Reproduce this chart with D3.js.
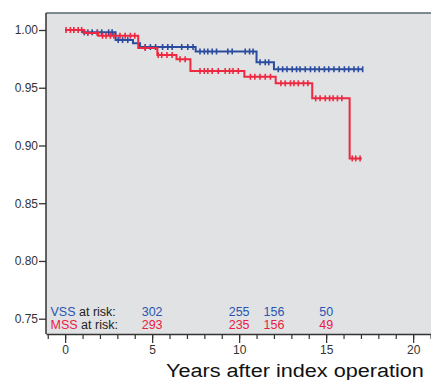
<!DOCTYPE html>
<html>
<head>
<meta charset="utf-8">
<script src="https://cdn.jsdelivr.net/npm/d3@7"></script>
<style>
  body { margin: 0; background: #fff; }
  text { font-family: "Liberation Sans", Arial, sans-serif; }
</style>
</head>
<body>
<script>
// data
var vssTimes = [0, 1.0, 2.9, 3.9, 4.3, 7.5, 11.0, 12.0];
var vssSurv = [1.0, 0.998, 0.9913, 0.9885, 0.9853, 0.9814, 0.972, 0.966];
var vssEnd = 17.1;
var vssCensor = [1.1, 1.3, 1.55, 1.85, 2.1, 2.5, 2.7, 3.05, 3.3, 3.6, 4.6, 4.9, 5.2, 5.6, 5.9,
  6.15, 6.7, 7.05, 7.35, 7.75, 8.0, 8.2, 8.45, 8.7, 9.35, 9.6, 10.35, 10.6, 10.8, 11.2, 11.5,
  11.7, 12.25, 12.5, 12.75, 13.05, 13.3, 13.5, 13.8, 14.1, 14.35, 14.6, 14.9, 15.15, 15.45,
  15.75, 16.05, 16.3, 16.6, 16.85, 17.1];

var mssTimes = [0, 1.1, 1.9, 4.2, 5.3, 6.4, 7.2, 10.3, 12.1, 14.2, 16.35];
var mssSurv = [1.0, 0.9975, 0.995, 0.9844, 0.9783, 0.9746, 0.9645, 0.9595, 0.9538, 0.9408, 0.8888];
var mssEnd = 17.05;
var mssCensor = [0.05, 0.3, 0.5, 0.75, 0.95, 1.3, 1.85, 2.15, 2.35, 2.6, 2.8, 3.15, 3.45, 3.75,
  4.0, 4.6, 5.35, 5.55, 5.85, 6.15, 6.6, 6.9, 7.75, 8.0, 8.2, 8.45, 8.8, 9.2, 9.45, 9.65, 9.95,
  10.65, 10.9, 11.2, 11.5, 11.8, 12.4, 12.65, 12.95, 13.15, 13.4, 13.7, 13.95, 14.4, 14.65,
  14.95, 15.2, 15.4, 15.65, 15.9, 16.5, 16.7, 16.95];

var riskTimes = [5, 10, 12, 15];
var vssRisk = [302, 255, 156, 50];
var mssRisk = [293, 235, 156, 49];

var yTicks = [0.75, 0.80, 0.85, 0.90, 0.95, 1.00];
var xMajor = [0, 5, 10, 15, 20];
var xMinor = d3.range(-1, 22);

// chart setup
var svgWidth = 431;
var svgHeight = 380;
var margin = { top: 13, left: 46 };
var width = 393;
var height = 321;

var blue = "#2b4c9f";
var red = "#ee2840";

var svg = d3.select("body")
  .append("svg")
  .attr("width", svgWidth)
  .attr("height", svgHeight);

var chartGroup = svg.append("g")
  .attr("transform", `translate(${margin.left}, ${margin.top})`);

var xScale = d3.scaleLinear().domain([-1.1, 21.486]).range([0, width]);
var yScale = d3.scaleLinear().domain([0.75, 1.0]).range([305.7, 17]);

// plot background
chartGroup.append("rect")
  .attr("width", width)
  .attr("height", height)
  .attr("fill", "#e1e2e4");

// frame lines
chartGroup.append("line")
  .attr("x1", 0).attr("x2", width).attr("y1", 0).attr("y2", 0)
  .attr("stroke", "#56666c").attr("stroke-width", 1.5);

// y axis
var leftAxis = d3.axisLeft(yScale)
  .tickValues(yTicks)
  .tickFormat(d3.format(".2f"))
  .tickSize(7)
  .tickSizeOuter(0);

var yAxisG = chartGroup.append("g").call(leftAxis);
yAxisG.select(".domain").remove();
yAxisG.selectAll(".tick line").attr("stroke", "#333").attr("stroke-width", 1.3);
yAxisG.selectAll(".tick text")
  .attr("font-size", 12)
  .attr("fill", "#333")
  .attr("x", -8);

chartGroup.append("line")
  .attr("x1", 0).attr("x2", 0).attr("y1", 0).attr("y2", height)
  .attr("stroke", "#333").attr("stroke-width", 1.5);

// x axis
var minorAxis = d3.axisBottom(xScale)
  .tickValues(xMinor)
  .tickFormat("")
  .tickSize(5)
  .tickSizeOuter(0);

var bottomAxis = d3.axisBottom(xScale)
  .tickValues(xMajor)
  .tickFormat(d3.format("d"))
  .tickSize(9)
  .tickSizeOuter(0);

var xMinorG = chartGroup.append("g")
  .attr("transform", `translate(0, ${height})`)
  .call(minorAxis);
xMinorG.select(".domain").remove();
xMinorG.selectAll(".tick line").attr("stroke", "#333").attr("stroke-width", 1.2);

var xAxisG = chartGroup.append("g")
  .attr("transform", `translate(0, ${height})`)
  .call(bottomAxis);
xAxisG.select(".domain").attr("stroke", "#333").attr("stroke-width", 1.5);
xAxisG.selectAll(".tick line").attr("stroke", "#333").attr("stroke-width", 1.2);
xAxisG.selectAll(".tick text")
  .attr("font-size", 12)
  .attr("fill", "#333")
  .attr("y", 11);

// axis title (wide text, kept just inside the right edge)
svg.append("text")
  .attr("transform", "translate(166, 377) scale(1.14, 1)")
  .attr("font-size", 19)
  .attr("fill", "#111")
  .text("Years after index operation");

// survival curves
function stepPoints(times, surv, end) {
  var pts = times.map((t, i) => ({ t: t, s: surv[i] }));
  pts.push({ t: end, s: surv[surv.length - 1] });
  return pts;
}

function survAt(times, surv, t) {
  var s = surv[0];
  times.forEach((tt, i) => { if (tt <= t) s = surv[i]; });
  return s;
}

var line = d3.line()
  .x(d => xScale(d.t))
  .y(d => yScale(d.s))
  .curve(d3.curveStepAfter);

function drawCurve(times, surv, end, censor, color) {
  chartGroup.append("path")
    .attr("d", line(stepPoints(times, surv, end)))
    .attr("fill", "none")
    .attr("stroke", color)
    .attr("stroke-width", 2);

  chartGroup.selectAll(null)
    .data(censor)
    .enter()
    .append("line")
    .attr("x1", d => xScale(d))
    .attr("x2", d => xScale(d))
    .attr("y1", d => yScale(survAt(times, surv, d)) - 3)
    .attr("y2", d => yScale(survAt(times, surv, d)) + 3)
    .attr("stroke", color)
    .attr("stroke-width", 1.6);
}

drawCurve(vssTimes, vssSurv, vssEnd, vssCensor, blue);
drawCurve(mssTimes, mssSurv, mssEnd, mssCensor, red);

// numbers at risk
var riskRows = [
  { name: "VSS", color: "#2a55b3", values: vssRisk, y: 303 },
  { name: "MSS", color: "#ea2044", values: mssRisk, y: 316 }
];

riskRows.forEach(function(row) {
  var label = chartGroup.append("text")
    .attr("x", 4.5)
    .attr("y", row.y)
    .attr("font-size", 12.5);
  label.append("tspan").attr("fill", row.color).text(row.name);
  label.append("tspan").attr("fill", "#222").text(" at risk:");

  chartGroup.selectAll(null)
    .data(row.values)
    .enter()
    .append("text")
    .attr("x", (d, i) => xScale(riskTimes[i]))
    .attr("y", row.y)
    .attr("text-anchor", "middle")
    .attr("font-size", 12.5)
    .attr("fill", row.color)
    .text(d => d);
});
</script>
</body>
</html>
